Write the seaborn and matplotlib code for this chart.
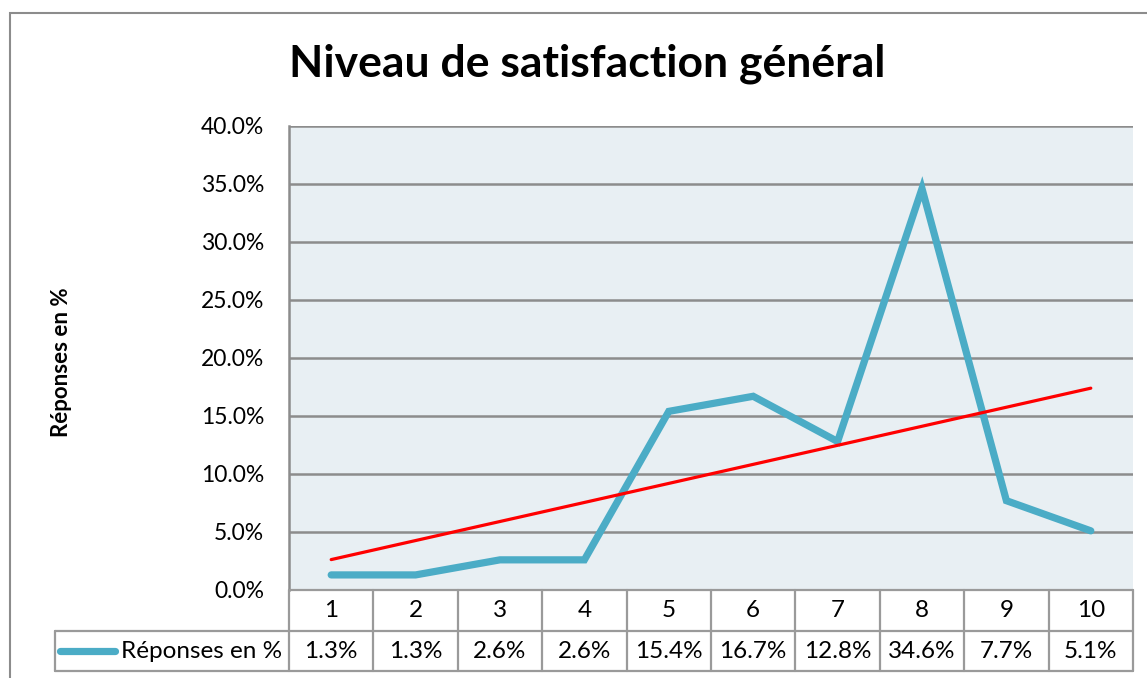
import numpy as np
import pandas as pd
import matplotlib
matplotlib.use("Agg")
import matplotlib.pyplot as plt
from matplotlib.patches import Rectangle
from matplotlib.ticker import FuncFormatter
import seaborn as sns

# data
notes = [1, 2, 3, 4, 5, 6, 7, 8, 9, 10]
reponses = [1.3, 1.3, 2.6, 2.6, 15.4, 16.7, 12.8, 34.6, 7.7, 5.1]
serie = "Réponses en %"
titre = "Niveau de satisfaction général"

df = pd.DataFrame({"note": notes, "pct": reponses})

sns.set_theme(style="white")
plt.rcParams['font.family'] = ['Lato', 'DejaVu Sans']
plt.rcParams['text.color'] = 'black'

W, H = 1147, 678
fig = plt.figure(figsize=(W / 100, H / 100), dpi=100)

# pixel geometry of the Excel-like layout
px_left, px_right = 289, 1133
px_top, px_bot = 126, 590
tab_left, tab_bot = 55, 671

def fx(p):
    return p / W

def fy(p):
    return 1 - p / H

ax = fig.add_axes([fx(px_left), fy(px_bot), fx(px_right - px_left), fy(px_top) - fy(px_bot)])
ax.set_facecolor("#E8EFF3")

blue = "#4BACC6"
grid_c = "#8C8C8C"

sns.lineplot(data=df, x="note", y="pct", ax=ax, color=blue, linewidth=5.2,
             solid_capstyle="round", solid_joinstyle="miter", zorder=3)

# linear trendline
k, b = np.polyfit(df["note"], df["pct"], 1)
xs = np.array([notes[0], notes[-1]])
ax.plot(xs, k * xs + b, color="#FF0000", linewidth=2.3, zorder=4)

ax.set_xlim(0.5, 10.5)
ax.set_ylim(0, 40)
ax.set_yticks(np.arange(0, 41, 5))
ax.yaxis.set_major_formatter(FuncFormatter(lambda v, p: f"{v:.1f}%"))
ax.set_xticks([])
ax.set_xlabel("")
ax.set_ylabel("")
ax.tick_params(axis="y", labelsize=16.5, colors="black", pad=18, length=0)
ax.yaxis.grid(True, color=grid_c, linewidth=1.8)
ax.set_axisbelow(True)
for s in ["top", "right", "bottom"]:
    ax.spines[s].set_visible(False)
ax.spines["left"].set_color(grid_c)
ax.spines["left"].set_linewidth(1.8)

# title and y label
fig.text(fx(587), fy(64), titre, ha="center", va="center", fontsize=32, fontweight="bold")
fig.text(fx(62), fy(362), serie, ha="center", va="center", rotation=90, fontsize=16,
         fontweight="bold")

# data table under the plot
unit = (px_right - px_left) / 10
x0 = 0.5 - (px_left - tab_left) / unit
tax = fig.add_axes([fx(tab_left), fy(tab_bot), fx(px_right - tab_left), fy(px_bot) - fy(tab_bot)])
tax.set_xlim(x0, 10.5)
tax.set_ylim(0, 2)
tax.axis("off")
tab_c = "#9A9A9A"
lw = 1.6
row_split = (tab_bot - 631) / ((tab_bot - px_bot) / 2)
tax.plot([0.5, 10.5], [2, 2], color=tab_c, lw=lw, clip_on=False)
tax.plot([x0, 10.5], [row_split, row_split], color=tab_c, lw=lw, clip_on=False)
tax.plot([x0, 10.5], [0, 0], color=tab_c, lw=lw, clip_on=False)
tax.plot([x0, x0], [0, row_split], color=tab_c, lw=lw, clip_on=False)
for i in range(11):
    xv = 0.5 + i
    tax.plot([xv, xv], [0, 2], color=tab_c, lw=lw, clip_on=False)
for n, v in zip(notes, reponses):
    tax.text(n, (2 + row_split) / 2, str(n), ha="center", va="center", fontsize=17.5)
    tax.text(n, row_split / 2, f"{v:.1f}%", ha="center", va="center", fontsize=17.5)
key_x0 = x0 + 5 / unit
key_x1 = x0 + 60 / unit
tax.plot([key_x0, key_x1], [row_split / 2, row_split / 2], color=blue, lw=5.2,
         solid_capstyle="round", clip_on=False)
tax.text(x0 + 66 / unit, row_split / 2, serie, ha="left", va="center", fontsize=17.5)

# outer chart border
fig.add_artist(Rectangle((fx(10), fy(H + 20)), fx(W + 20), fy(13) - fy(H + 20),
                         transform=fig.transFigure, fill=False, edgecolor="#8C8C8C",
                         linewidth=1.5))

fig.savefig("out.png", dpi=100)
